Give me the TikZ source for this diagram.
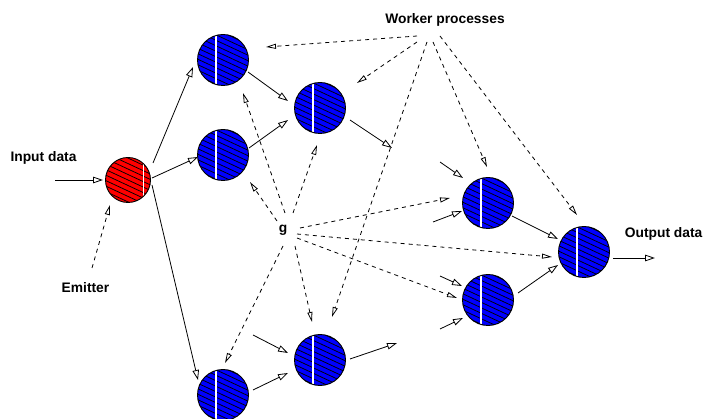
\documentclass[tikz,border=0pt]{standalone}
\usepackage{fontspec}
\setmainfont{Liberation Sans}
\usetikzlibrary{arrows.meta,calc}

% diagonal hatching clipped to a disc, plus a white vertical stripe at offset #1
\newcommand\hatchdisc[1]{%
  \foreach \k in {-6,...,6}{%
    \draw[line width=0.75pt]
      ($(path picture bounding box.center)+({-2.1*\k-29},{4.5*\k-13.5})$) --
      ($(path picture bounding box.center)+({-2.1*\k+29},{4.5*\k+13.5})$);
  }%
  \draw[white, line width=1.1pt]
    ($(path picture bounding box.center)+(#1,-30)$) -- ++(0,60);
}

\tikzset{
  lbl/.style={font=\fontsize{13.8}{16}\selectfont\bfseries, inner sep=0pt},
  proc/.style={circle, draw=black, line width=0.9pt, fill=blue,
    minimum size=51pt, inner sep=0pt, path picture={\hatchdisc{-7}}},
  emit/.style={circle, draw=black, line width=0.9pt, fill=red,
    minimum size=45pt, inner sep=0pt, path picture={\hatchdisc{15.5}}},
  flow/.style={line width=0.8pt, -{Triangle[open,length=10pt,width=6.5pt]}},
  hint/.style={line width=0.8pt, dash pattern=on 4pt off 4pt,
    -{Triangle[open,length=10pt,width=5pt]}},
}

\begin{document}
\begin{tikzpicture}[x=1pt,y=-1pt]
\useasboundingbox (0,0) rectangle (704,419);

% processes
\node[emit] (E)  at (128,180) {};
\node[proc] (W1) at (223,60)  {};
\node[proc] (W2) at (223,155) {};
\node[proc] (W3) at (320,108) {};
\node[proc] (W4) at (223,395) {};
\node[proc] (W5) at (320,360) {};
\node[proc] (W6) at (488,203) {};
\node[proc] (W7) at (488,300) {};
\node[proc] (W8) at (584,252) {};

% labels
\node[lbl, anchor=base] (input)   at (43.5,161.7) {Input data};
\node[lbl, anchor=base] (emitter) at (85.5,293)   {Emitter};
\node[lbl, anchor=base] (workers) at (445,23.3)   {Worker processes};
\node[lbl] (g) at (283,230) {g};
\node[lbl, anchor=base east] (output) at (702.5,238) {Output data};

% free ends
\coordinate (inA) at (55,180);
\coordinate (f1) at (392,148);
\coordinate (f2) at (253,335);
\coordinate (f3) at (397,343);
\coordinate (f4) at (440,162);
\coordinate (f5) at (433,222);
\coordinate (f6) at (440,276);
\coordinate (f7) at (440,329);
\coordinate (f8) at (655,258);
\coordinate (wa) at (417,36);
\coordinate (wb) at (417,42);
\coordinate (wc) at (427,42);
\coordinate (wd) at (433,42);
\coordinate (we) at (440,36);
\coordinate (em) at (92,268);

% data flow
\draw[flow] (inA) -- ($(E)+(-25,0)$);
\draw[flow] ($(E)+(25,-17)$) -- ($(W1)+(-30,7)$);
\draw[flow] ($(E)+(24,-2)$)  -- ($(W2)+(-25,2)$);
\draw[flow] ($(E)+(24,5)$)   -- ($(W4)+(-25,-15)$);
\draw[flow] ($(W1)+(25,12)$) -- ($(W3)+(-32,-7)$);
\draw[flow] ($(W2)+(26,-7)$) -- ($(W3)+(-32,12)$);
\draw[flow] ($(W3)+(30,12)$) -- (f1);
\draw[flow] (f2) -- ($(W5)+(-32,-7)$);
\draw[flow] ($(W4)+(30,-5)$) -- ($(W5)+(-32,13)$);
\draw[flow] ($(W5)+(30,-1)$) -- (f3);
\draw[flow] (f4) -- ($(W6)+(-25,-25)$);
\draw[flow] (f5) -- ($(W6)+(-26,8)$);
\draw[flow] ($(W6)+(24,13)$) -- ($(W8)+(-26,-13)$);
\draw[flow] (f6) -- ($(W7)+(-26,-14)$);
\draw[flow] (f7) -- ($(W7)+(-25,18)$);
\draw[flow] ($(W7)+(30,-7)$) -- ($(W8)+(-26,13)$);
\draw[flow] ($(W8)+(29,6)$)  -- (f8);

% pointers from the worker label
\draw[hint] (wa) -- ($(W1)+(43,-13)$);
\draw[hint] (wb) -- ($(W3)+(37,-25)$);
\draw[hint] (wc) -- ($(W5)+(12,-43)$);
\draw[hint] (wd) -- ($(W6)+(-1,-36)$);
\draw[hint] (we) -- ($(W8)+(-7,-37)$);

% pointers from g
\draw[hint] ($(g)+(2,-17)$)  -- ($(W1)+(20,33)$);
\draw[hint] ($(g)+(-6,-9)$)  -- ($(W2)+(27,27)$);
\draw[hint] ($(g)+(10,-17)$) -- ($(W3)+(-3,37)$);
\draw[hint] ($(g)+(0,16)$)   -- ($(W4)+(2,-32)$);
\draw[hint] ($(g)+(12,16)$)  -- ($(W5)+(-8,-38)$);
\draw[hint] ($(g)+(17,-2)$)  -- ($(W6)+(-38,-5)$);
\draw[hint] ($(g)+(14,4)$)   -- ($(W8)+(-32,5)$);
\draw[hint] ($(g)+(14,8)$)   -- ($(W7)+(-31,-2)$);

% pointer from the emitter label
\draw[hint] (em) -- ($(E)+(-18,25)$);
\end{tikzpicture}
\end{document}
